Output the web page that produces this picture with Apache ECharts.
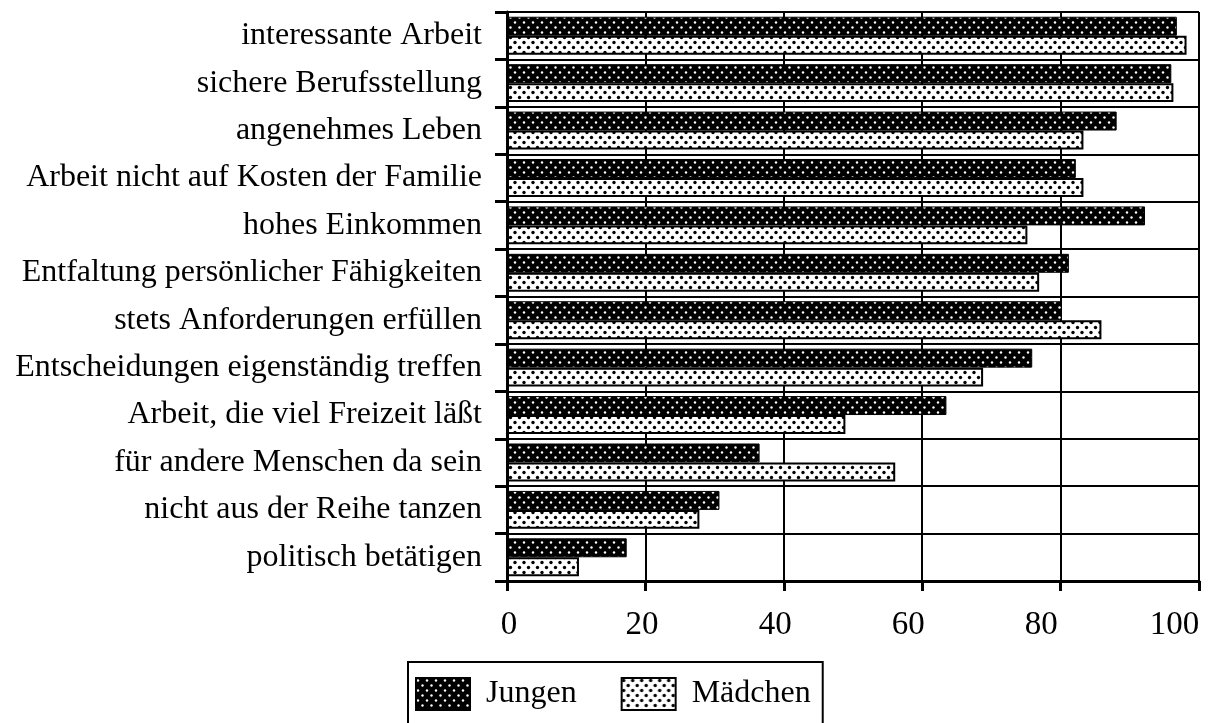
<!DOCTYPE html>
<html>
<head>
<meta charset="utf-8">
<script src="https://cdn.jsdelivr.net/npm/echarts@6/dist/echarts.min.js"></script>
<style>
html,body{margin:0;padding:0;background:#fff;}
#c{width:1230px;height:723px;}
</style>
</head>
<body>
<div id="c"></div>
<script>
const categories = [
  'interessante Arbeit',
  'sichere Berufsstellung',
  'angenehmes Leben',
  'Arbeit nicht auf Kosten der Familie',
  'hohes Einkommen',
  'Entfaltung persönlicher Fähigkeiten',
  'stets Anforderungen erfüllen',
  'Entscheidungen eigenständig treffen',
  'Arbeit, die viel Freizeit läßt',
  'für andere Menschen da sein',
  'nicht aus der Reihe tanzen',
  'politisch betätigen'
];
const jungen = [96.8, 96.0, 88.1, 82.2, 92.2, 81.2, 80.2, 75.9, 63.5, 36.5, 30.7, 17.3];
const maedchen = [98.2, 96.3, 83.3, 83.3, 75.2, 76.9, 85.9, 68.8, 48.9, 56.1, 27.8, 10.4];
const xTicks = [0, 20, 40, 60, 80, 100];

function makePattern(bg, dot, r) {
  const c = document.createElement('canvas');
  c.width = 9; c.height = 10;
  const g = c.getContext('2d');
  g.fillStyle = bg; g.fillRect(0, 0, 9, 10);
  g.fillStyle = dot;
  [[2, 2.5], [6.5, 7.5]].forEach(p => {
    g.beginPath(); g.arc(p[0], p[1], r, 0, Math.PI * 2); g.fill();
  });
  return c;
}
const darkPat = makePattern('#000', '#fff', 1.2);
const lightPat = makePattern('#fff', '#000', 1.7);

const FONT = '"Liberation Serif", "DejaVu Serif", serif';
const chart = echarts.init(document.getElementById('c'), null, {renderer: 'canvas'});
chart.setOption({
  animation: false,
  backgroundColor: '#fff',
  grid: {left: 507, right: 31, top: 12, bottom: 142, containLabel: false},
  legend: {
    left: 408, top: 662,
    orient: 'horizontal',
    padding: [15, 12, 13, 7],
    itemGap: 44,
    itemWidth: 54, itemHeight: 32,
    borderColor: '#000', borderWidth: 2, borderRadius: 0,
    icon: 'rect',
    textStyle: {fontFamily: FONT, fontSize: 32, color: '#000', padding: [0, 0, 0, 11]},
    data: ['Jungen', 'Mädchen']
  },
  xAxis: [
    {
      type: 'value', min: 0, max: 100, interval: 20,
      axisLine: {show: true, lineStyle: {color: '#000', width: 3}},
      axisTick: {show: true, length: 10, lineStyle: {color: '#000', width: 3}},
      splitLine: {show: true, lineStyle: {color: '#000', width: 2}},
      axisLabel: {show: false}
    },
    {
      type: 'value', min: 0, max: 104, interval: 20, position: 'bottom',
      axisLine: {show: false}, axisTick: {show: false}, splitLine: {show: false},
      axisLabel: {
        fontFamily: FONT, fontSize: 33, color: '#000', margin: 28, padding: [0, 0, 0, 4],
        formatter: v => (xTicks.indexOf(v) >= 0 ? String(v) : '')
      }
    }
  ],
  yAxis: {
    type: 'category', data: categories, inverse: true,
    axisLine: {show: true, lineStyle: {color: '#000', width: 3}},
    axisTick: {show: true, length: 12, lineStyle: {color: '#000', width: 3}},
    splitLine: {show: true, lineStyle: {color: '#000', width: 2}},
    axisLabel: {fontFamily: FONT, fontSize: 32, color: '#000', margin: 25}
  },
  series: [
    {
      name: 'Jungen', type: 'bar', data: jungen, xAxisIndex: 0,
      barGap: '0%', barCategoryGap: '20%',
      itemStyle: {color: {image: darkPat, repeat: 'repeat'}, borderColor: '#000', borderWidth: 1}
    },
    {
      name: 'Mädchen', type: 'bar', data: maedchen, xAxisIndex: 0,
      barGap: '0%', barCategoryGap: '20%',
      itemStyle: {color: {image: lightPat, repeat: 'repeat'}, borderColor: '#000', borderWidth: 2}
    }
  ]
});
</script>
</body>
</html>
